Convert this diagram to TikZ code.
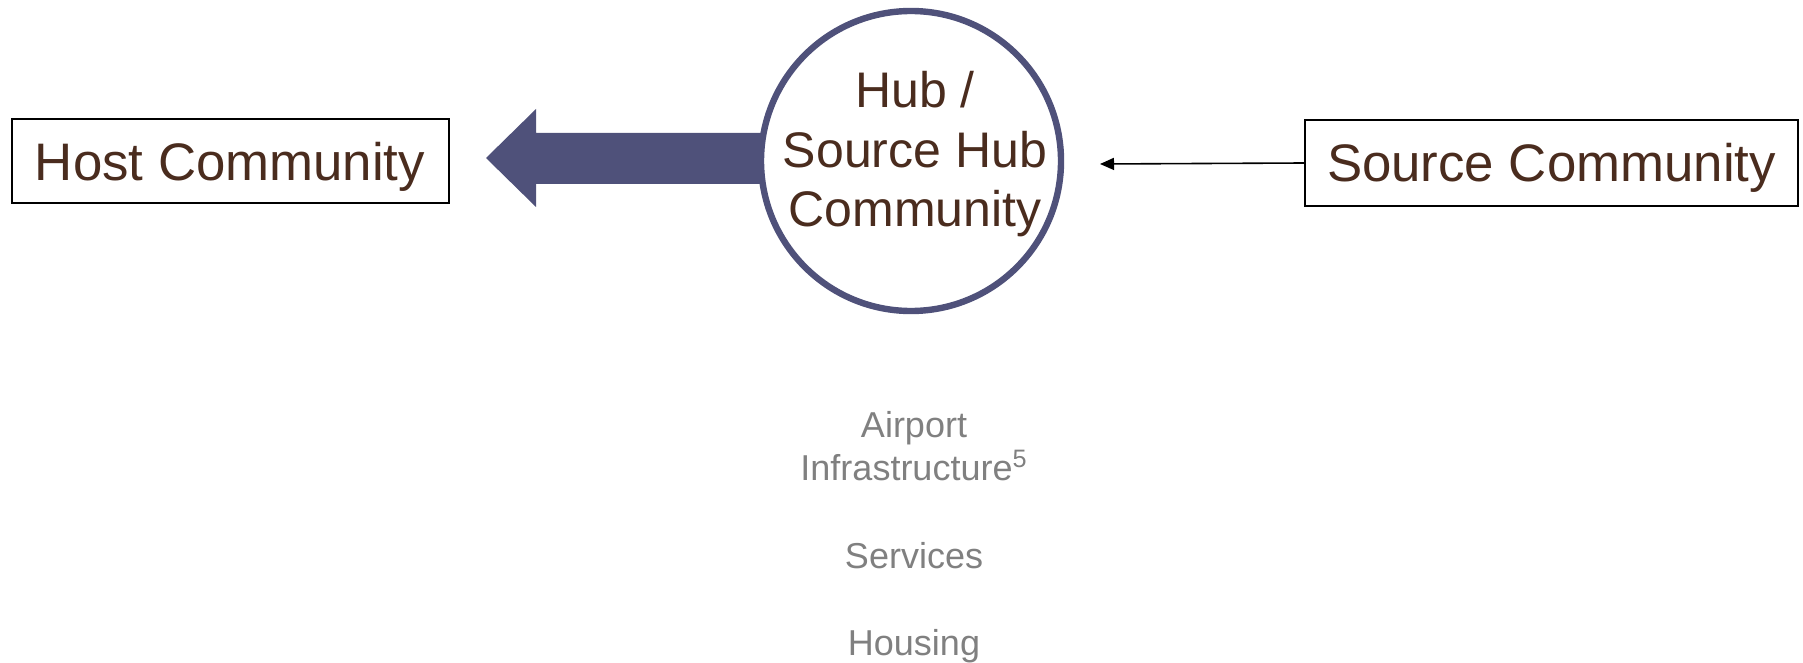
\documentclass[tikz,border=0pt]{standalone}
\usepackage{fontspec}
\setmainfont{Liberation Sans}
\usetikzlibrary{arrows.meta,calc,backgrounds}
\definecolor{txtbrown}{RGB}{74,44,30}
\definecolor{hubblue}{RGB}{79,81,122}
\definecolor{graytxt}{RGB}{128,128,128}
\begin{document}
\begin{tikzpicture}[x=0.5pt,y=-0.5pt,
  commbox/.style={draw=black,line width=1pt,fill=white,inner sep=0pt,text=txtbrown,text height=19pt,text depth=0pt,font=\fontsize{26.4pt}{30pt}\selectfont},
  hubcircle/.style={circle,draw=hubblue,line width=3.2pt,fill=white,minimum size=150pt,inner sep=0pt},
  hubtext/.style={align=center,inner sep=0pt,text=txtbrown,font=\fontsize{25pt}{29.75pt}\selectfont},
  grayline/.style={text=graytxt,font=\fontsize{18pt}{21.5pt}\selectfont,inner sep=0pt,anchor=base},
  blockarrow/.style={fill=hubblue},
  thinarrow/.style={draw=black,line width=0.8pt,-{Triangle[length=7pt,width=6pt]}}]
\useasboundingbox (0,0) rectangle (1803,663);
\node[commbox,minimum width=218.5pt,minimum height=42pt] (host) at (230,161.5) {Host Community};
\node[commbox,minimum width=246.5pt,minimum height=43pt] (source) at (1551.5,163) {Source Community};
\node[hubcircle] (hub) at (911,161) {};
\node[hubtext] (hubtext) at ($(hub.center)+(4,-6.5)$) {Hub /\\Source Hub\\Community};
\coordinate (tip) at (486,158);
\begin{scope}[on background layer]
\fill[blockarrow] (tip) -- ++(50,-49) -- ++(0,24) -- ($(hub.center)+(0,-28)$) -- ($(hub.center)+(0,23)$) -- ($(tip)+(50,26)$) -- ++(0,23) -- cycle;
\end{scope}
\coordinate (thintip) at (1100,164);
\draw[thinarrow] (source.west) -- (thintip);
\node[grayline] (airport) at (914,437) {Airport};
\node[grayline] (infra) at (914,480) {Infrastructure\textsuperscript{5}};
\node[grayline] (services) at (914,568) {Services};
\node[grayline] (housing) at (914,655) {Housing};
\end{tikzpicture}
\end{document}
